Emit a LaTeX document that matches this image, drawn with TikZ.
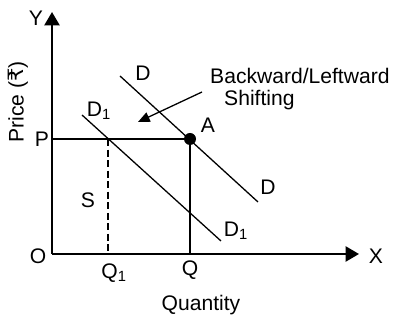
\documentclass[tikz,border=0pt]{standalone}
\usepackage{fontspec}
\setmainfont{Liberation Sans}
\newfontfamily\rupeefont{DejaVu Sans}
\usetikzlibrary{positioning,arrows.meta}

\begin{document}
\begin{tikzpicture}[x=0.03cm,y=0.03cm,
  lbl/.style={font=\fontsize{18}{20}\selectfont,inner sep=0pt},
  axis/.style={line width=2pt,-{Triangle[length=4mm,width=4.5mm]}},
  demand/.style={line width=1.1pt}]
\useasboundingbox (0,0) rectangle (393,321);
% axes
\coordinate (O) at (52,67);
\coordinate (Ytip) at (52,309);
\coordinate (Xtip) at (359,67);
\draw[axis] (O) -- (Ytip);
\draw[axis] (O) -- (Xtip);
\node[lbl] (ylab) at (36,303) {Y};
\node[lbl] (xlab) at (376,65) {X};
\node[lbl] (olab) at (38,65) {O};
\node[lbl,rotate=90] (price) at (18,219) {Price ({\rupeefont ₹})};
\node[lbl] (qty) at (201,16) {Quantity};
% equilibrium
\coordinate (A) at (190,182);
\coordinate (P) at (52,182);
\coordinate (Q) at (190,67);
\coordinate (Q1top) at (108,182);
\coordinate (Q1) at (108,67);
\draw[line width=1.6pt] (P) -- (A) -- (Q);
\draw[line width=1.4pt,dashed,dash pattern=on 6pt off 3pt] (Q1top) -- (Q1);
\fill (A) circle[radius=0.18cm];
\node[lbl] (plab) at (42,182) {P};
\node[lbl] (alab) at (208,196) {A};
\node[lbl] (qlab) at (190,51) {Q};
\node[lbl] (q1lab) at (114,48) {Q\textsubscript{1}};
\node[lbl] (slab) at (88,121) {S};
% demand curves
\coordinate (Dtop) at (120,245);
\coordinate (Dbot) at (258,119);
\coordinate (D1top) at (82,206);
\coordinate (D1bot) at (221,80);
\draw[demand] (Dtop) -- (Dbot);
\draw[demand] (D1top) -- (D1bot);
\node[lbl] (dlab) at (143,248) {D};
\node[lbl] (dlab2) at (268,134) {D};
\node[lbl] (d1lab) at (99,210) {D\textsubscript{1}};
\node[lbl] (d1lab2) at (236,90) {D\textsubscript{1}};
% shift
\node[lbl,anchor=west] (back) at (210,245) {Backward/Leftward};
\node[lbl,anchor=west] (shift) at (224,221) {Shifting};
\coordinate (arrfrom) at (202,229);
\coordinate (arrto) at (138,199);
\draw[line width=1.1pt,-{Triangle[length=3.5mm,width=3mm]}] (arrfrom) -- (arrto);
\end{tikzpicture}
\end{document}
